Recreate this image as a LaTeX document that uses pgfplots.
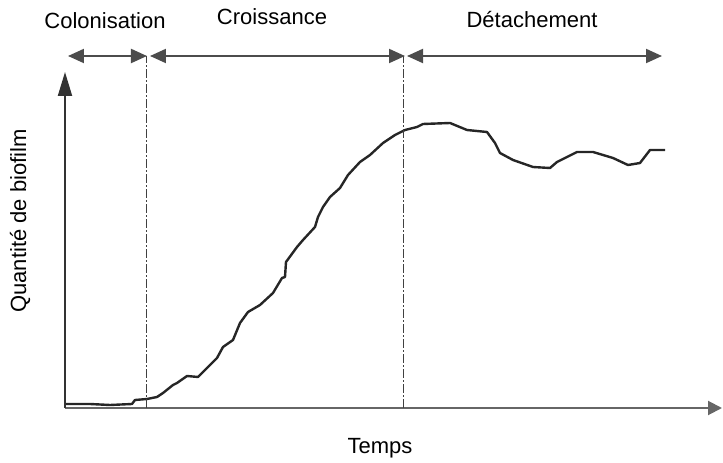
\documentclass[border=0pt]{standalone}
\usepackage{pgfplots}
\pgfplotsset{compat=1.18}
\usepackage{fontspec}
\setmainfont{Liberation Sans}
\usetikzlibrary{arrows.meta}
\begin{document}
\begin{tikzpicture}
\begin{axis}[
  scale only axis,
  width=657pt, height=336pt,
  xmin=0, xmax=657, ymin=0, ymax=336,
  axis lines=left,
  xtick=\empty, ytick=\empty,
  clip=false,
  x axis line style={line width=2pt, draw=black!60, -{Triangle[length=14pt,width=14pt]}},
  y axis line style={line width=2pt, draw=black!80, -{Triangle[length=24pt,width=14pt]}},
]
% bounding box of the whole picture (723 x 463)
\path (axis cs:-65,-55) rectangle (axis cs:658,408);

\addplot[line width=2.4pt, black!85, line join=round] coordinates {
(1,4)(25,4)(45,3)(67,4)(70,8)(82,9)(92,11)(98,15)(108,23)(112,25)
(122,32)(133,31)(142,40)(145,43)(152,50)(158,61)(168,68)(175,85)
(183,96)(195,103)(208,115)(217,130)(220,131)(221,146)(232,161)
(238,168)(250,181)(253,191)(258,201)(265,211)(275,220)(283,233)
(295,246)(305,253)(318,265)(330,273)(340,278)(352,281)(358,284)
(385,285)(402,278)(422,276)(430,265)(435,255)(448,248)(468,241)
(485,240)(492,246)(512,256)(528,256)(548,250)(563,243)(575,245)
(585,258)(600,258)
};

% phase separators
\draw[line width=1pt, black!75, dash pattern=on 9pt off 2pt on 2pt off 2pt] (axis cs:82,0) -- (axis cs:82,352);
\draw[line width=1pt, black!75, dash pattern=on 9pt off 2pt on 2pt off 2pt] (axis cs:338,0) -- (axis cs:338,352);

% phase arrows
\draw[line width=2pt, black!70, {Triangle[length=16pt,width=14pt]}-{Triangle[length=16pt,width=14pt]}] (axis cs:3,352) -- (axis cs:82,352);
\draw[line width=2pt, black!70, {Triangle[length=16pt,width=14pt]}-{Triangle[length=16pt,width=14pt]}] (axis cs:85,352) -- (axis cs:340,352);
\draw[line width=2pt, black!70, {Triangle[length=16pt,width=14pt]}-{Triangle[length=16pt,width=14pt]}] (axis cs:342,352) -- (axis cs:597,352);

% texts
\node[font=\fontsize{22}{26}\selectfont, inner sep=0pt] at (axis cs:40,387) {Colonisation};
\node[font=\fontsize{22}{26}\selectfont, inner sep=0pt] at (axis cs:207,391) {Croissance};
\node[font=\fontsize{22}{26}\selectfont, inner sep=0pt] at (axis cs:467,388) {Détachement};
\node[font=\fontsize{22}{26}\selectfont, inner sep=0pt] at (axis cs:315,-40) {Temps};
\node[font=\fontsize{22}{26}\selectfont, inner sep=0pt, rotate=90] at (axis cs:-45,187) {Quantité de biofilm};
\end{axis}
\end{tikzpicture}
\end{document}
